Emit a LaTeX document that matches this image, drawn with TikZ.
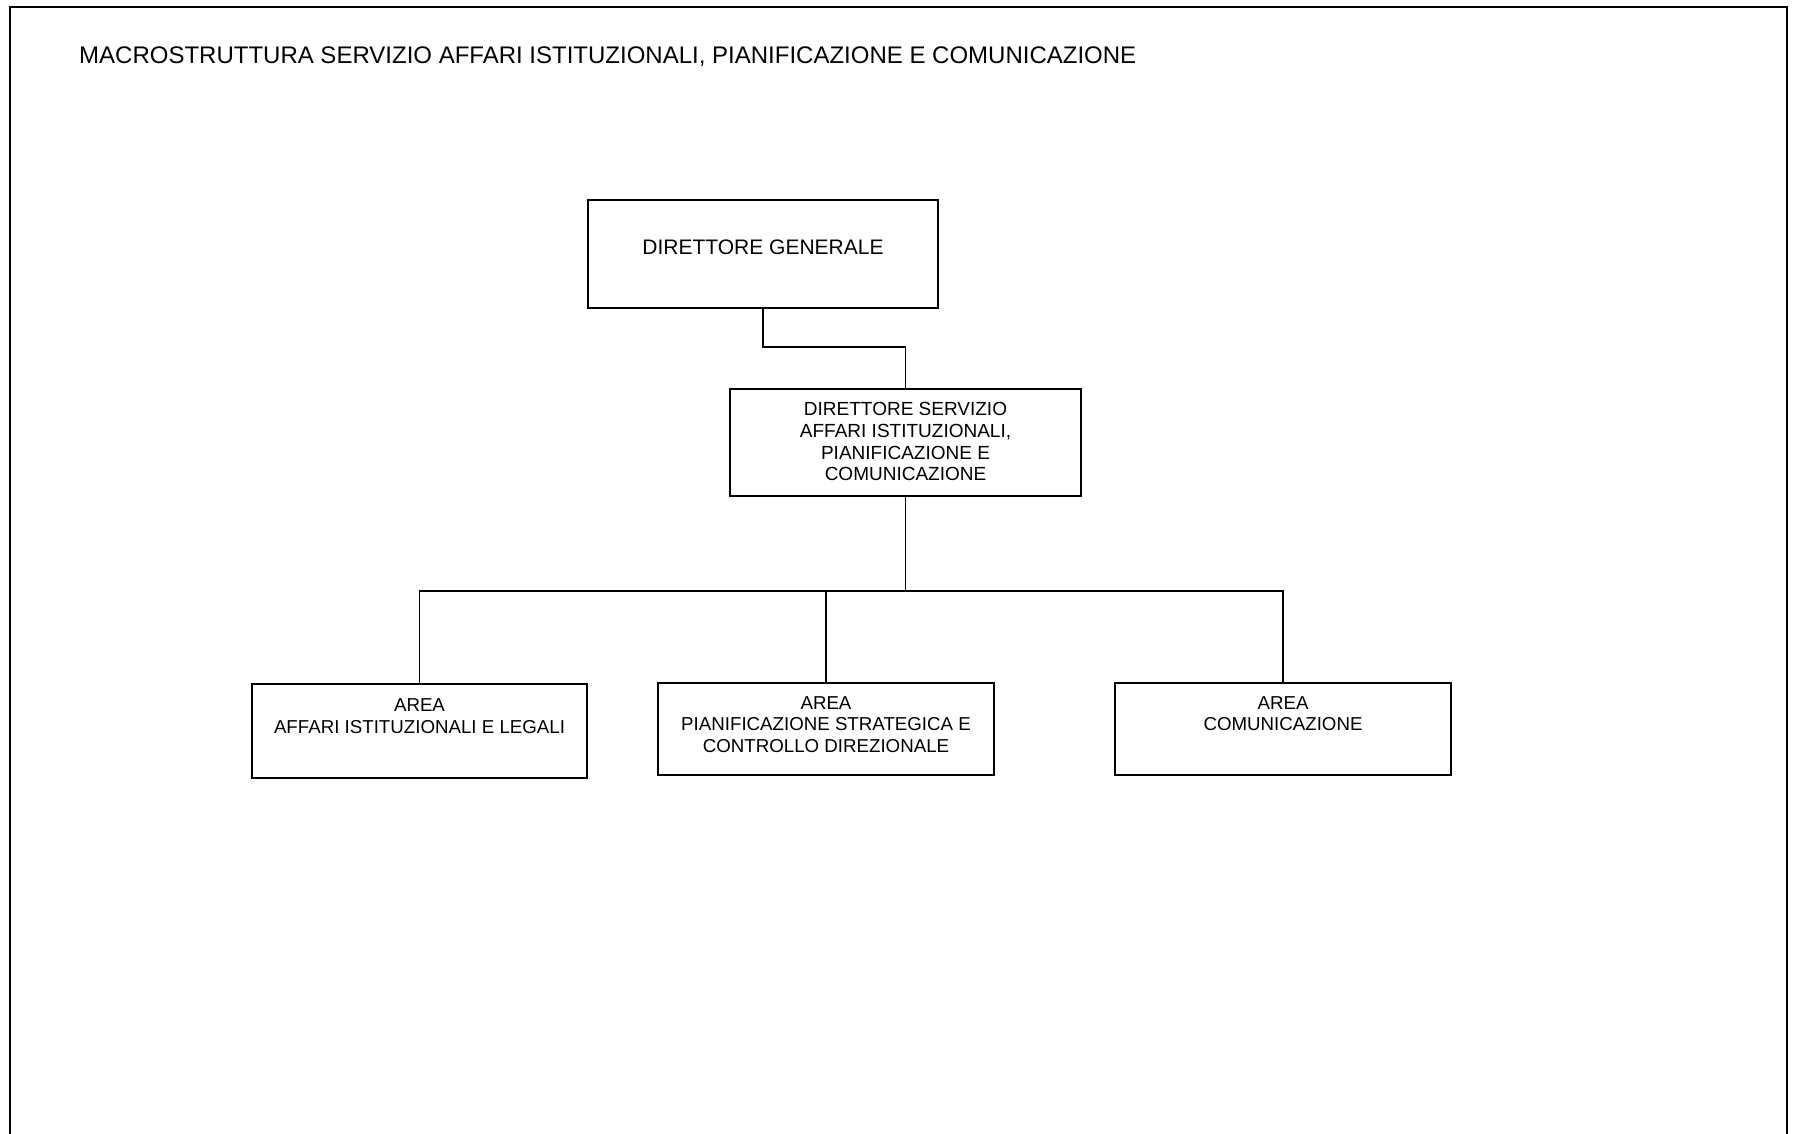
\documentclass[tikz,border=0pt]{standalone}
\usepackage{fontspec}
\setmainfont{Liberation Sans}
\begin{document}
\begin{tikzpicture}[x=1pt,y=-1pt,
  unit/.style={draw,line width=1.8pt,rectangle,inner sep=0pt},
  lbl/.style={inner sep=0pt,align=center,anchor=north},
  link/.style={line width=1.6pt}]
\useasboundingbox (0,0) rectangle (1793,1134);
% page frame, open at the bottom
\draw[line width=2.6pt] (10,1140) -- (10,7) -- (1787,7) -- (1787,1140);
% heading
\node[anchor=base west,inner sep=0pt,font=\fontsize{24}{28}\selectfont] (title) at (79,63.5)
  {MACROSTRUTTURA SERVIZIO AFFARI ISTITUZIONALI, PIANIFICAZIONE E COMUNICAZIONE};
% boxes
\node[unit,minimum width=350pt,minimum height=108pt] (dg) at (763,254) {};
\node[inner sep=0pt,anchor=base,font=\fontsize{21}{24}\selectfont] (dgt) at (763,254.5) {DIRETTORE GENERALE};
\node[unit,minimum width=351pt,minimum height=107pt] (ds) at (905.5,442.5) {};
\node[lbl,font=\fontsize{19}{21.8}\selectfont] (dst) at (905.5,402)
  {DIRETTORE SERVIZIO\\AFFARI ISTITUZIONALI,\\PIANIFICAZIONE E\\COMUNICAZIONE};
\node[unit,minimum width=335pt,minimum height=94pt] (a1) at (419.5,731) {};
\node[lbl,font=\fontsize{18.7}{21.5}\selectfont] (a1t) at (419.5,698.8)
  {AREA\\AFFARI ISTITUZIONALI E LEGALI};
\node[unit,minimum width=336pt,minimum height=92pt] (a2) at (826,729) {};
\node[lbl,font=\fontsize{18.7}{21.5}\selectfont] (a2t) at (826,696.3)
  {AREA\\PIANIFICAZIONE STRATEGICA E\\CONTROLLO DIREZIONALE};
\node[unit,minimum width=336pt,minimum height=92pt] (a3) at (1283,729) {};
\node[lbl,font=\fontsize{18.7}{21.5}\selectfont] (a3t) at (1283,696.3)
  {AREA\\COMUNICAZIONE};
% connectors: one drop from the director, then a bus feeding the three areas
\draw[link] (dg.south) -- ++(0,38) -| (ds.north);
\draw[link] (ds.south) -- ++(0,94) -| (a1.north);
\draw[link] (ds.south) -- ++(0,94) -| (a2.north);
\draw[link] (ds.south) -- ++(0,94) -| (a3.north);
\end{tikzpicture}
\end{document}
